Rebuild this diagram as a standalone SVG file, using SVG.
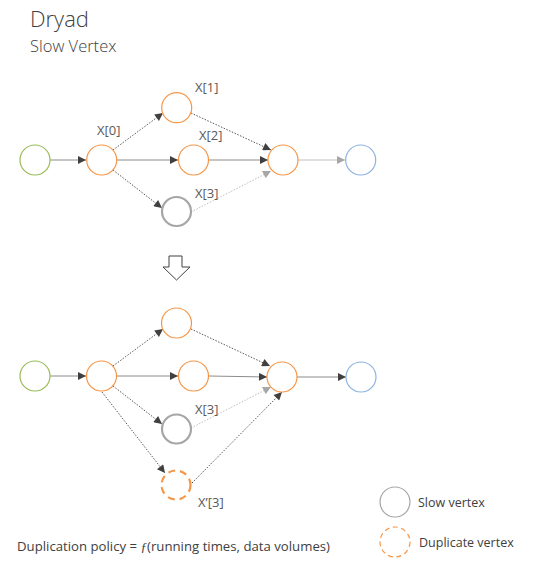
<svg xmlns="http://www.w3.org/2000/svg" width="533" height="572" viewBox="0 0 533 572">
<style>
.t{font-family:"Open Sans","Liberation Sans",sans-serif;fill:#404040}
.lbl{font-size:13px;fill:#595959}
.n{fill:#fff;stroke-width:1.2}
.or{stroke:#f79646}
.gr{stroke:#9bbb59}
.bl{stroke:#8db3e2}
.sl{stroke:#a6a6a6;stroke-width:2.2}
.dup{stroke:#f79646;stroke-width:2.2;stroke-dasharray:7 5}
.e{fill:none;stroke-width:1}
.sol{stroke:#8c8c8c}
.dot{stroke:#595959;stroke-dasharray:1.5 1.5}
.lt{stroke:#bfbfbf;stroke-dasharray:1.5 1.5}
.lts{stroke:#bfbfbf}
</style>
<defs>
<marker id="ad" viewBox="0 0 10 10" refX="10" refY="5" markerWidth="10" markerHeight="8" markerUnits="userSpaceOnUse" orient="auto"><path d="M0,0L10,5L0,10z" fill="#404040"/></marker>
<marker id="al" viewBox="0 0 10 10" refX="10" refY="5" markerWidth="10" markerHeight="8" markerUnits="userSpaceOnUse" orient="auto"><path d="M0,0L10,5L0,10z" fill="#a6a6a6"/></marker>
</defs>
<text class="t" x="30" y="27" font-size="22" font-weight="300" fill="#595959">Dryad</text>
<text class="t" x="30" y="52" font-size="16.5" font-weight="300" fill="#595959">Slow Vertex</text>

<g id="connectors">
<line class="e sol" x1="50" y1="160" x2="86" y2="160" marker-end="url(#ad)"/>
<line class="e dot" x1="113" y1="150" x2="163" y2="113" marker-end="url(#ad)"/>
<line class="e sol" x1="117" y1="160" x2="178" y2="160" marker-end="url(#ad)"/>
<line class="e dot" x1="113" y1="170" x2="162" y2="208" marker-end="url(#ad)"/>
<line class="e dot" x1="191" y1="113" x2="271" y2="150" marker-end="url(#ad)"/>
<line class="e sol" x1="209" y1="160" x2="268" y2="160" marker-end="url(#ad)"/>
<line class="e lt" x1="191" y1="212" x2="271" y2="171" marker-end="url(#al)"/>
<line class="e lts" x1="298" y1="160" x2="345" y2="160" marker-end="url(#al)"/>

<line class="e sol" x1="50" y1="376" x2="86" y2="376" marker-end="url(#ad)"/>
<line class="e dot" x1="113" y1="366" x2="163" y2="329" marker-end="url(#ad)"/>
<line class="e sol" x1="117" y1="376" x2="178" y2="376" marker-end="url(#ad)"/>
<line class="e dot" x1="113" y1="386" x2="162" y2="424" marker-end="url(#ad)"/>
<line class="e dot" x1="102" y1="392" x2="165" y2="473" marker-end="url(#ad)"/>
<line class="e dot" x1="191" y1="329" x2="270" y2="366" marker-end="url(#ad)"/>
<line class="e sol" x1="209" y1="376" x2="267" y2="377" marker-end="url(#ad)"/>
<line class="e lt" x1="191" y1="428" x2="271" y2="387" marker-end="url(#al)"/>
<line class="e dot" x1="192" y1="483" x2="282" y2="392" marker-end="url(#ad)"/>
<line class="e sol" x1="297" y1="377" x2="346" y2="377" marker-end="url(#ad)"/>
</g>

<g id="top-src"><circle class="n gr" cx="35" cy="160" r="15"/></g>
<g id="top-x0"><circle class="n or" cx="101.7" cy="160" r="15"/><text class="t lbl" x="97" y="135">X[0]</text></g>
<g id="top-x1"><circle class="n or" cx="176.7" cy="107.7" r="15"/><text class="t lbl" x="195" y="92">X[1]</text></g>
<g id="top-x2"><circle class="n or" cx="193.5" cy="160" r="15"/><text class="t lbl" x="199" y="140">X[2]</text></g>
<g id="top-x3"><circle class="n sl" cx="176.5" cy="211.5" r="14.5"/><text class="t lbl" x="195" y="198">X[3]</text></g>
<g id="top-merge"><circle class="n or" cx="283" cy="160" r="15"/></g>
<g id="top-sink"><circle class="n bl" cx="360.7" cy="160" r="15"/></g>

<g id="down-arrow"><path d="M169,256H182V267H190L176.5,280L163,267H169Z" fill="#fff" stroke="#404040" stroke-width="1"/></g>

<g id="bot-src"><circle class="n gr" cx="35" cy="376" r="15"/></g>
<g id="bot-x0"><circle class="n or" cx="101.5" cy="376" r="15"/></g>
<g id="bot-x1"><circle class="n or" cx="176.5" cy="323" r="15"/></g>
<g id="bot-x2"><circle class="n or" cx="193.5" cy="376" r="15"/></g>
<g id="bot-x3"><circle class="n sl" cx="176.5" cy="429" r="14.5"/><text class="t lbl" x="195" y="414">X[3]</text></g>
<g id="bot-dup"><circle class="n dup" cx="176" cy="485" r="14.5"/><text class="t lbl" x="198" y="507">X’[3]</text></g>
<g id="bot-merge"><circle class="n or" cx="282" cy="377" r="15"/></g>
<g id="bot-sink"><circle class="n bl" cx="361" cy="377" r="15"/></g>

<g id="legend-slow"><circle class="n" cx="395" cy="502" r="15" stroke="#a6a6a6" stroke-width="1.3"/><text class="t" x="418" y="507" font-size="12.5">Slow vertex</text></g>
<g id="legend-dup"><circle class="n" cx="395" cy="542" r="15" stroke="#f79646" stroke-width="1.3" stroke-dasharray="5 3.5"/><text class="t" x="419" y="547" font-size="12.5">Duplicate vertex</text></g>

<text class="t" x="17" y="551" font-size="12.5" textLength="313" lengthAdjust="spacingAndGlyphs">Duplication policy = <tspan font-style="italic" font-family="Liberation Serif,serif">ƒ</tspan>(running times, data volumes)</text>
</svg>
